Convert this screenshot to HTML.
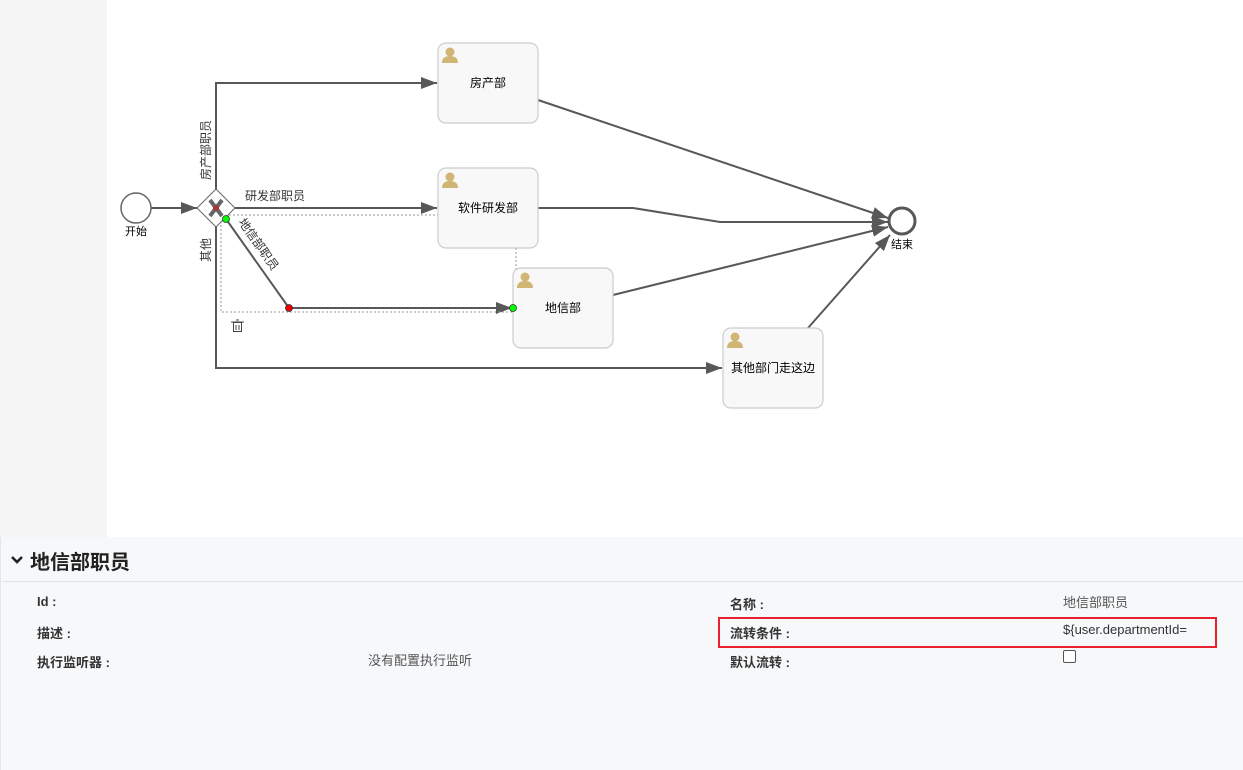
<!DOCTYPE html>
<html><head><meta charset="utf-8"><style>
body{margin:0;width:1243px;height:770px;overflow:hidden;background:#fff;font-family:"Liberation Sans","Noto Sans CJK SC",sans-serif;position:relative}
.abs{position:absolute}
.lbl{position:absolute;font-size:13px;color:#333;font-weight:bold}
.val{position:absolute;font-size:13px;color:#555}
</style></head><body>
<div class="abs" style="left:0;top:0;width:107px;height:537px;background:#f5f5f5"></div>
<svg class="abs" style="left:0;top:0" width="1243" height="537" font-family="Liberation Sans, Noto Sans CJK SC, sans-serif">
<defs>
<marker id="b" markerWidth="16" markerHeight="12" refX="16" refY="6" orient="auto" markerUnits="userSpaceOnUse"><path d="M0,0 L16,6 L0,12z" fill="#585858"/></marker></defs>
<g fill="none" stroke="#585858" stroke-width="2">
<line x1="151" y1="208" x2="197" y2="208" marker-end="url(#b)"/>
<polyline points="216,189 216,83 437,83" marker-end="url(#b)"/>
<line x1="235" y1="208" x2="437" y2="208" marker-end="url(#b)"/>
<polyline points="226,219 289,308 512,308" marker-end="url(#b)"/>
<polyline points="216,227 216,368 722,368" marker-end="url(#b)"/>
<line x1="538" y1="100" x2="888" y2="218" marker-end="url(#b)"/>
<polyline points="538,208 633,208 720,222 888,222" marker-end="url(#b)"/>
<line x1="613" y1="295" x2="888" y2="227" marker-end="url(#b)"/>
<line x1="808" y1="328" x2="890" y2="235" marker-end="url(#b)"/>
</g>
<rect x="221" y="215" width="295" height="97" fill="none" stroke="#999" stroke-dasharray="2,2"/>
<circle cx="136" cy="208" r="15" fill="#fff" stroke="#666" stroke-width="1.5"/>
<text x="136" y="235" font-size="11" text-anchor="middle" fill="#000">开始</text>
<circle cx="902" cy="221" r="13" fill="#fff" stroke="#585858" stroke-width="3"/>
<text x="902" y="248" font-size="11" text-anchor="middle" fill="#000">结束</text>
<polygon points="216,189 235,208 216,227 197,208" fill="#fff" stroke="#666"/>
<path d="M210,200 L222,216 M222,200 L210,216" stroke="#666" stroke-width="4"/>
<circle cx="216" cy="208" r="3" fill="#a33"/>
<g fill="#f8f8f8" stroke="#ccc" stroke-width="1.2">
<rect x="438" y="43" width="100" height="80" rx="8"/>
<rect x="438" y="168" width="100" height="80" rx="8"/>
<rect x="513" y="268" width="100" height="80" rx="8"/>
<rect x="723" y="328" width="100" height="80" rx="8"/>
</g>
<g fill="#d1b574">
<circle cx="450" cy="52" r="4.5"/><path d="M442,63 q0,-7 8,-7 q8,0 8,7z"/>
<circle cx="450" cy="177" r="4.5"/><path d="M442,188 q0,-7 8,-7 q8,0 8,7z"/>
<circle cx="525" cy="277" r="4.5"/><path d="M517,288 q0,-7 8,-7 q8,0 8,7z"/>
<circle cx="735" cy="337" r="4.5"/><path d="M727,348 q0,-7 8,-7 q8,0 8,7z"/>
</g>
<g font-size="12" fill="#000" text-anchor="middle">
<text x="488" y="87">房产部</text>
<text x="488" y="212">软件研发部</text>
<text x="563" y="312">地信部</text>
<text x="773" y="372">其他部门走这边</text>
</g>
<g font-size="12" fill="#333">
<text x="245" y="200">研发部职员</text>
<text transform="translate(210,180) rotate(-90)">房产部职员</text>
<text transform="translate(210,262) rotate(-90)">其他</text>
<text transform="translate(238,222) rotate(55)">地信部职员</text>
</g>
<circle cx="226" cy="219" r="3.5" fill="#0f0" stroke="#333" stroke-width=".8"/>
<circle cx="289" cy="308" r="3.5" fill="#e00" stroke="#333" stroke-width=".8"/>
<circle cx="513" cy="308" r="3.5" fill="#0f0" stroke="#333" stroke-width=".8"/>
<g stroke="#444" fill="none" stroke-width="1"><rect x="233.5" y="322.5" width="8" height="9"/><line x1="231" y1="322" x2="244" y2="322"/><line x1="236" y1="320" x2="239" y2="320"/><line x1="236" y1="325" x2="236" y2="330"/><line x1="239" y1="325" x2="239" y2="330"/></g>
</svg>
<div class="abs" style="left:0;top:537px;width:1243px;height:233px;background:#f7f8fa;border-left:1px solid #e6e6e6"></div>
<div class="abs" style="left:2px;top:581px;width:1241px;height:1px;background:#e3e3e3"></div>
<svg class="abs" style="left:11px;top:555px" width="12" height="10"><path d="M1,2 L6,7 L11,2" stroke="#222" stroke-width="2.6" fill="none"/></svg>
<div class="abs" style="left:30px;top:546px;font-size:20px;font-weight:bold;color:#222">地信部职员</div>
<div class="lbl" style="left:37px;top:594px">Id :</div>
<div class="lbl" style="left:37px;top:623px">描述 :</div>
<div class="lbl" style="left:37px;top:652px">执行监听器 :</div>
<div class="val" style="left:368px;top:650px">没有配置执行监听</div>
<div class="lbl" style="left:730px;top:594px">名称 :</div>
<div class="val" style="left:1063px;top:592px">地信部职员</div>
<div class="abs" style="left:718px;top:617px;width:495px;height:27px;border:2px solid #e8232f"></div>
<div class="lbl" style="left:730px;top:623px">流转条件 :</div>
<div class="val" style="left:1063px;top:622px;color:#333">${user.departmentId=</div>
<div class="lbl" style="left:730px;top:652px">默认流转 :</div>
<div class="abs" style="left:1063px;top:650px;width:11px;height:11px;border:1px solid #555;border-radius:2px;background:#fff"></div>
</body></html>
